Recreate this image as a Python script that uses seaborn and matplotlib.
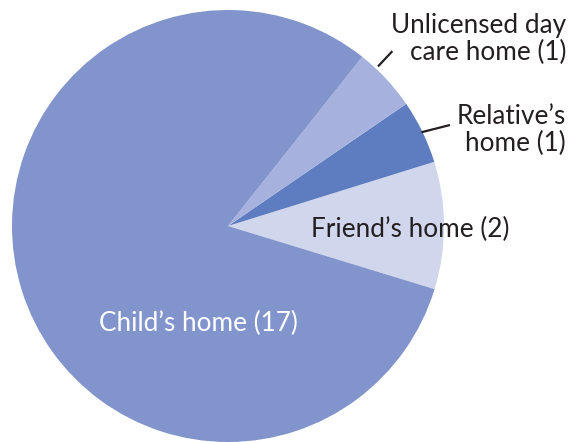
import numpy as np
import matplotlib
matplotlib.use("Agg")
import matplotlib.pyplot as plt
import seaborn as sns

# Where children were cared for (counts)
categories = ["Friend\u2019s home", "Relative\u2019s home", "Unlicensed day care home", "Child\u2019s home"]
counts = [2, 1, 1, 17]
label_texts = ["Friend\u2019s home (2)", "Relative\u2019s\nhome (1)",
               "Unlicensed day\ncare home (1)", "Child\u2019s home (17)"]
colors = ["#D0D6EC", "#5E7CC0", "#A6B2DD", "#8294CC"]

sns.set_theme(style="white")
plt.rcParams["font.family"] = ["Lato", "DejaVu Sans"]

W, H = 572, 442
fig = plt.figure(figsize=(W / 100, H / 100), dpi=100)
ax = fig.add_axes([0, 0, 1, 1])

cx, cy, r = 228, H - 226, 216
start = -17
wedges, _ = ax.pie(counts, colors=colors, startangle=start, counterclock=True,
                   center=(cx, cy), radius=r, frame=True,
                   wedgeprops=dict(linewidth=0))
ax.set_xlim(0, W)
ax.set_ylim(0, H)
ax.set_aspect("equal")
ax.axis("off")

def edge_point(w, frac, rad):
    a = np.deg2rad(w.theta1 + frac * (w.theta2 - w.theta1))
    return cx + rad * np.cos(a), cy + rad * np.sin(a)

fs = 18.8
txt = "#231F20"

# Inside labels
ax.text(410, H - 229, label_texts[0], ha="center", va="center", fontsize=fs, color=txt)
ax.text(198, H - 323, label_texts[3], ha="center", va="center", fontsize=fs, color="white")

# Outside labels with leader lines
x0, y0 = edge_point(wedges[1], 0.5, r - 1)
ax.plot([x0, 450], [y0, H - 125], color=txt, lw=1.6, solid_capstyle="butt")
ax.text(566, H - 130, label_texts[1], ha="right", va="center", fontsize=fs,
        color=txt, linespacing=1.12)

x0, y0 = edge_point(wedges[2], 0.72, r + 3)
x1, y1 = edge_point(wedges[2], 0.72, r + 24)
ax.plot([x0, x1], [y0, y1], color=txt, lw=1.6, solid_capstyle="butt")
ax.text(566, H - 39, label_texts[2], ha="right", va="center", fontsize=fs,
        color=txt, linespacing=1.12)

fig.savefig("out.png", dpi=100)
